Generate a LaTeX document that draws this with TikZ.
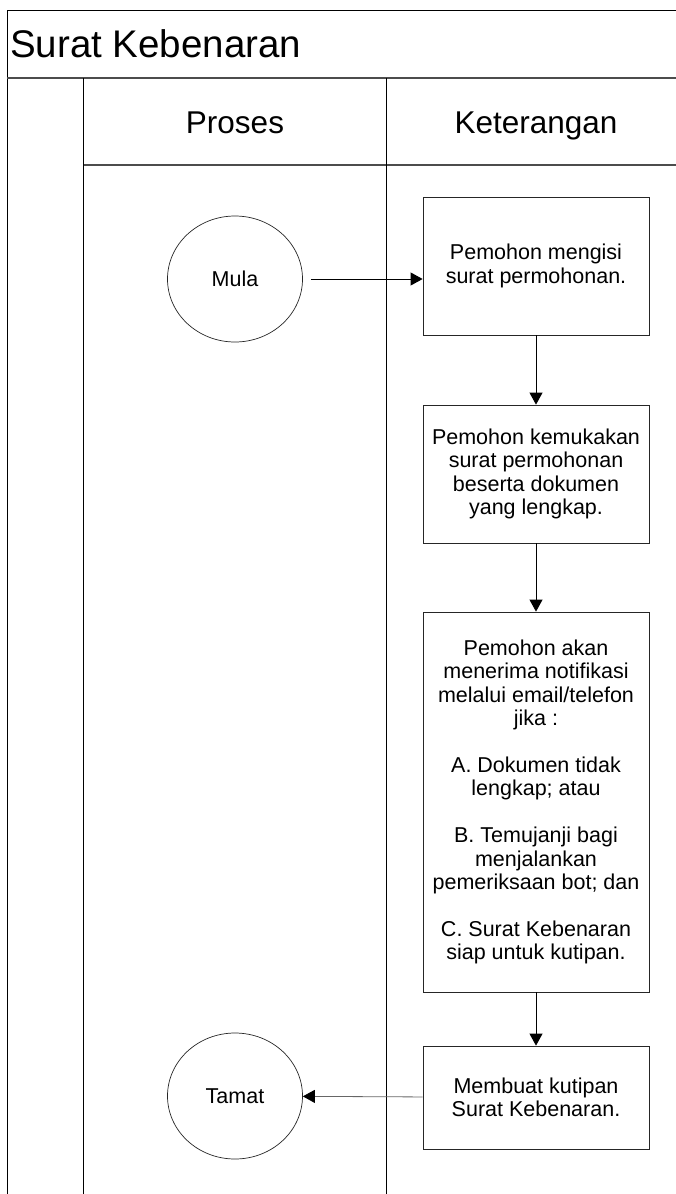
\documentclass[tikz,border=0pt]{standalone}
\usepackage{fontspec}
\setmainfont{Liberation Sans}
\usetikzlibrary{positioning,arrows.meta,shapes.geometric,calc}

\tikzset{
  kotak/.style={draw=black!85, line width=0.8pt, minimum width=226pt, align=center,
    inner sep=0pt, font=\fontsize{21.5}{23.4}\selectfont},
  bujur/.style={ellipse, draw=black!85, line width=0.7pt, minimum width=135pt,
    minimum height=126pt, inner sep=0pt, font=\fontsize{21.5}{23.4}\selectfont},
  anak/.style={-{Triangle[length=12pt,width=13pt,color=black]}, line width=0.8pt},
  garis/.style={line width=1pt},
  kepala/.style={anchor=base, font=\fontsize{31.5}{34}\selectfont}
}

\begin{document}
\begin{tikzpicture}[x=1pt,y=-1pt]
  \useasboundingbox (0,0) rectangle (676,1194);
  % bingkai dan lorong
  \draw[garis] (676,10) -- (7,10) -- (7,1194);
  \draw[line width=2pt, black!70] (7,78) -- (676,78);
  \draw[line width=1.3pt, black!70] (83,165) -- (676,165);
  \draw[garis] (83,78) -- (83,1194);
  \draw[garis] (386,78) -- (386,1194);
  % tajuk dan kepala lajur
  \node[anchor=base west, inner sep=1pt, font=\fontsize{38.5}{42}\selectfont] (tajuk) at (9,57) {Surat Kebenaran};
  \node[kepala] (proses) at (235,133) {Proses};
  \node[kepala] (keterangan) at (536,133) {Keterangan};
  % proses
  \node[bujur] (mula) at (235,279) {Mula};
  \node[bujur] (tamat) at (235,1096) {Tamat};
  % keterangan
  \node[kotak, minimum height=138pt] (isi) at (536,266) {Pemohon mengisi\\surat permohonan.};
  \node[kotak, minimum height=138pt] (kemuka) at (536,474) {Pemohon kemukakan\\surat permohonan\\beserta dokumen\\yang lengkap.};
  \node[kotak, minimum height=380pt] (notis) at (536,802) {Pemohon akan\\menerima notifikasi\\melalui email/telefon\\jika :\\[23.4pt]
    A. Dokumen tidak\\lengkap; atau\\[23.4pt]
    B. Temujanji bagi\\menjalankan\\pemeriksaan bot; dan\\[23.4pt]
    C. Surat Kebenaran\\siap untuk kutipan.};
  \node[kotak, minimum height=103pt] (kutipan) at (536,1097.5) {Membuat kutipan\\Surat Kebenaran.};
  % aliran
  \draw[anak, shorten <=8pt] (mula.east) -- (mula.east -| isi.west);
  \draw[anak] (isi.south) -- (kemuka.north);
  \draw[anak] (kemuka.south) -- (notis.north);
  \draw[anak] (notis.south) -- (kutipan.north);
  \draw[anak, black!60] (kutipan) -- (tamat);
\end{tikzpicture}
\end{document}
